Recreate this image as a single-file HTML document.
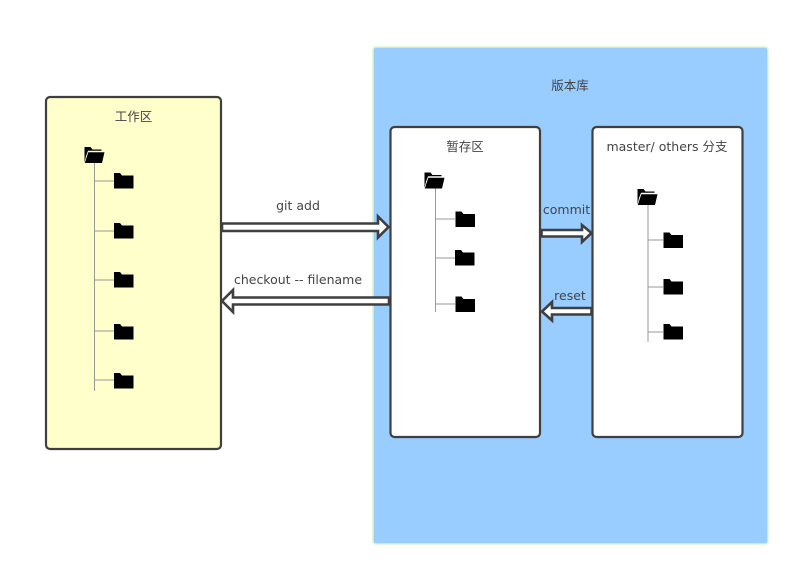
<!DOCTYPE html>
<html><head><meta charset="utf-8">
<style>html,body{margin:0;padding:0;background:#fff;width:800px;height:576px;overflow:hidden}
svg{display:block}
text{font-family:"DejaVu Sans","Noto Sans CJK SC",sans-serif;font-size:12.5px;fill:#444;text-anchor:middle}
.box{stroke:#3f3f3f;stroke-width:2.200}
.arrow{fill:#fff;stroke:#3f3f3f;stroke-width:2.600}
.line{stroke:#999;stroke-width:1;fill:none}
</style></head><body>
<svg width="800" height="576" viewBox="0 0 800 576" xmlns="http://www.w3.org/2000/svg">
<defs>
<g id="c"><path d="M0 0H6L8 2.500H19.500V15.500H0Z" fill="#000"/></g>
<g id="o"><path d="M0 0H6L8 2.500H17V3.800H3.500L1.500 9L0 15.500Z" fill="#000"/><path d="M3.800 5.200H20L17.500 16H0.300Z" fill="#000"/></g>
</defs>
<rect x="373" y="47" width="395" height="497" rx="3" fill="#99ccff" stroke="#ddf5c8" stroke-width="1.500"/>
<rect class="box" x="46" y="97" width="175" height="352" rx="4" fill="#ffffcc"/>
<rect class="box" x="390.500" y="127" width="149.500" height="310" rx="4" fill="#fff"/>
<rect class="box" x="592.500" y="127" width="150" height="310" rx="4" fill="#fff"/>

<text x="570" y="90">版本库</text>
<text x="133.500" y="121">工作区</text>
<text x="465" y="151">暂存区</text>
<text x="667" y="151">master/ others 分支</text>
<text x="298" y="210">git add</text>
<text x="298" y="284">checkout -- filename</text>
<text x="566.500" y="214">commit</text>
<text x="570" y="300">reset</text>

<path class="line" d="M94.500 160V391M94.500 181H114M94.500 231H114M94.500 280H114M94.500 331H114M94.500 380H114"/>
<use href="#o" x="84.500" y="147"/>
<use href="#c" x="114" y="173"/><use href="#c" x="114" y="223"/><use href="#c" x="114" y="272"/><use href="#c" x="114" y="324"/><use href="#c" x="114" y="373"/>

<path class="line" d="M435.500 186V312M435.500 219H455M435.500 258H455M435.500 304H455"/>
<use href="#o" x="424.500" y="172.500"/>
<use href="#c" x="455.500" y="211.500"/><use href="#c" x="455" y="250"/><use href="#c" x="455.500" y="296.500"/>

<path class="line" d="M648 203V342M648 240H663M648 287H663M648 332H663"/>
<use href="#o" x="637.500" y="189"/>
<use href="#c" x="663.500" y="232.500"/><use href="#c" x="663.500" y="279"/><use href="#c" x="663.500" y="324"/>

<path class="arrow" d="M222 223.500H378V216.500L388.500 227L378 237.500V231H222Z"/>
<path class="arrow" d="M389 297.500H233V290L222 301L233 312V304.500H389Z"/>
<path class="arrow" d="M541.500 230H582V225L591.500 233L582 242V236.500H541.500Z"/>
<path class="arrow" d="M591.500 308H552V302L542 311.500L552 320.500V314.500H591.500Z"/>
</svg>
</body></html>
